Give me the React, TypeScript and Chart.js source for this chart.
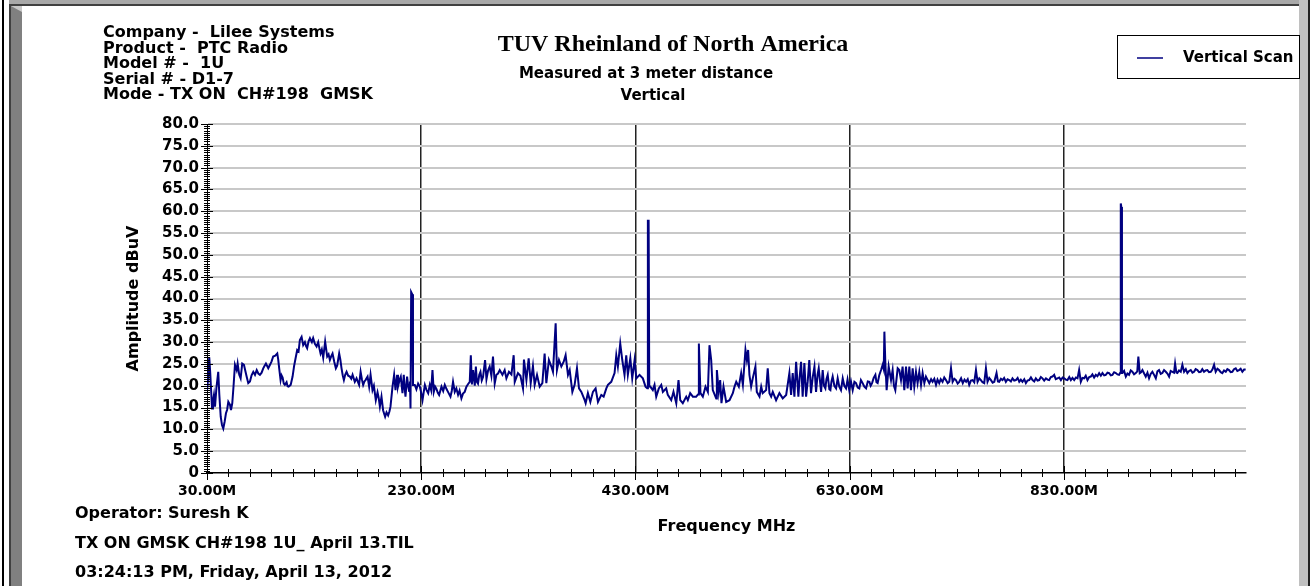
import { useEffect, useRef } from "react";
import { Chart, registerables } from "chart.js";

Chart.register(...registerables);

// ---------- axis definition ----------
const X_MIN = 30;
const X_MAX = 1000;
const Y_MIN = 0;
const Y_MAX = 80;
const Y_STEP = 5;
const xMajorTicks = [30, 230, 430, 630, 830];
const X_MINOR_STEP = 20;
const Y_MINOR_STEP = 0.5;

// ---------- texts ----------
const infoLines = [
  "Company -  Lilee Systems",
  "Product -  PTC Radio",
  "Model # -  1U",
  "Serial # - D1-7",
  "Mode - TX ON  CH#198  GMSK",
];
const titleText = "TUV Rheinland of North America";
const subtitleLines = ["Measured at 3 meter distance", "Vertical"];
const footerLines = [
  "Operator: Suresh K",
  "TX ON GMSK CH#198 1U_ April 13.TIL",
  "03:24:13 PM, Friday, April 13, 2012",
];
const seriesLabel = "Vertical Scan";
const xAxisTitle = "Frequency MHz";
const yAxisTitle = "Amplitude dBuV";

// ---------- data: [frequency MHz, amplitude dBuV] ----------
const scan30to238: [number, number][] = [
  [30, 19], [31, 21.5], [32.1, 26.5], [33, 23], [34.7, 14.8], [35.6, 16.5], [36.5, 17.9], [37.5, 15.2],
  [38.8, 19.5], [40.5, 23.2], [41.5, 18], [42.8, 12.9], [44, 11], [45.2, 10.2], [46.5, 11.8], [47.7, 13.7],
  [48.8, 14.5], [49.9, 16.3], [51.5, 15.6], [52.4, 14.4], [53.6, 16], [54.8, 20], [56.1, 24.8], [57.7, 23.6],
  [58.6, 25.1], [60.1, 22.5], [61.4, 21.7], [62.9, 25.1], [64.5, 24.8], [65.8, 23.4], [67, 22.1], [68.5, 20.6],
  [70.1, 21], [71.6, 22.4], [73.2, 23.2], [74.8, 22.5], [76.4, 23.6], [77.9, 22.8], [79.4, 22.5], [81, 23],
  [82.5, 24], [83.8, 24.6], [85, 25.1], [87.2, 24], [88.8, 24.8], [90.3, 25.6], [91.8, 26.7], [93.7, 26.9],
  [95.6, 27.4], [96.5, 26], [97.4, 24], [98.7, 21.3], [99.6, 22.4], [100.6, 21.9], [101.7, 20.5], [102.7, 20.2],
  [104.3, 20.8], [105.2, 19.9], [106.2, 19.8], [108.1, 20.2], [109.9, 22.1], [111.3, 24.5], [112.7, 26.3],
  [114.2, 28.2], [115.5, 27.9], [116.7, 30.5], [118.3, 31.2], [119.8, 29.3], [121.4, 30], [122.5, 29.1],
  [123.5, 28.6], [124.8, 30.2], [126.1, 30.9], [127.9, 30], [129.1, 30.9], [130.7, 29.6], [132.3, 29],
  [133.8, 30], [135, 28.5], [136, 27.4], [137.2, 28.3], [138.5, 26.4], [140.3, 30.1], [141.2, 28.5],
  [142.2, 26.7], [143.5, 27.2], [144.7, 25.9], [146, 26.8], [147.2, 27.4], [148.8, 25.5], [150.3, 24],
  [151.5, 24.6], [153.4, 27.4], [154.5, 26], [155.6, 24], [156.7, 22.4], [157.8, 21.3], [159, 22.5],
  [160.3, 23.2], [161.8, 22.3], [163.4, 22.1], [164.7, 21.6], [165.9, 22.5], [168, 20.9], [169.6, 21.7],
  [172, 20.2], [173.4, 23.2], [174.6, 21.5], [175.8, 20.2], [177, 21], [178, 21.3], [179.9, 22.1],
  [181.4, 19.8], [182.7, 22.5], [184.5, 19], [185.8, 20], [187.6, 16.7], [189.2, 18.5], [190.3, 17.2],
  [191.4, 15.2], [192.9, 17.5], [194.4, 14.4], [195.4, 13.6], [196.3, 12.9], [197.6, 13.9], [199.1, 13.2],
  [200.3, 14.1], [201.3, 15.2], [203.2, 19.8], [204.7, 22.5], [206, 19], [207.5, 22.5], [208.3, 19.8],
  [209.1, 20.6], [210.1, 21.6], [210.9, 22.1], [212.5, 18.3], [213.7, 22.5], [214.5, 19.6], [215.3, 17.5],
  [216.8, 22.1], [217.8, 19.9], [218.7, 18.8], [219.5, 21], [220, 14.8], [220.6, 41.5], [221.6, 41],
  [222.3, 20.2], [224, 20.2], [225.5, 19.2], [227.1, 20.5], [228.7, 19.8], [229.8, 18.6], [231.2, 16.7],
  [232.3, 18.5], [233.4, 20.2], [235, 19], [236.5, 18.3], [238, 20.2],
];

const scan238to303: [number, number][] = [
  [239.3, 19], [240.5, 23.6], [241.7, 18.6], [243, 19.8], [244.2, 19.3], [245.5, 18.4], [246.7, 17.9],
  [248.9, 19.8], [250.5, 18.8], [252, 20.2], [253.5, 19.3], [255, 18.6], [257.3, 17.5], [258.5, 18.8],
  [259.7, 20.9], [261.3, 18.6], [262.8, 19.4], [264.4, 17.9], [265.8, 18.9], [267.5, 17.1], [269, 18.2],
  [270.6, 18.6], [272.2, 19.8], [273.8, 20.4], [275.3, 20.9], [276.3, 27], [277.3, 20.3], [278.4, 23.6],
  [280, 20], [281, 24.4], [282, 20.9], [283, 20.5], [284.2, 22.5], [285.3, 23.2], [286.5, 21.2], [287.7, 22],
  [289.6, 25.9], [290.9, 21.5], [292.4, 23.5], [293.9, 24.4], [295.5, 22.3], [297, 26.7], [298.6, 20.5],
  [300.2, 22.5], [301.7, 22.8],
];

const scan303to443: [number, number][] = [
  [303.3, 23.6], [305.8, 22.5], [307.9, 23.6], [309.5, 21.7], [311.9, 23.2], [314.2, 22.6], [316.3, 27],
  [317.3, 20.9], [320.3, 22.9], [322.6, 22.3], [325, 19.4], [325.9, 26], [328.2, 21.3], [330.3, 26.3],
  [332.2, 20.6], [334.3, 24.5], [335.9, 20.2], [338.1, 22.5], [340.6, 19.8], [343.1, 20.6], [345.2, 27.4],
  [346.8, 20.6], [349.2, 25.9], [351.5, 24.4], [353, 23.2], [355.5, 34.3], [356.7, 23.6], [358.6, 25.9],
  [360.8, 24.4], [363, 25.5], [364.8, 27], [367, 22.5], [368.6, 23.6], [371.1, 18.6], [373.2, 20.2],
  [375.4, 24], [377.3, 19.4], [379.5, 18.6], [382.6, 16.7], [383.5, 16], [385.6, 18.3], [387.9, 16.3],
  [390.3, 18.6], [392.8, 19.4], [395, 16.3], [398.1, 17.9], [400.3, 17.5], [402.8, 19.4], [404.3, 20.2],
  [407.4, 20.9], [410.5, 22.9], [412.1, 27], [413.6, 24.4], [415.8, 29.7], [417.7, 25.9], [419.8, 22.5],
  [421.4, 27], [422.9, 22.5], [425.2, 26.3], [427, 21.7], [429.2, 25.9], [430.8, 21.7], [433.8, 22.5],
  [436.9, 21.7], [439.4, 19.8], [441, 19.4], [441.6, 57.8], [442.3, 57.8], [442.9, 19.8],
];

const scan443to571: [number, number][] = [
  [443.8, 19.8], [446.2, 19], [447.8, 20.2], [449.4, 17.5], [451.8, 19.4], [454.1, 20.2], [455.6, 18.6],
  [458.7, 19.4], [460.2, 17.9], [463.4, 16.7], [465.5, 18.6], [468.1, 16], [470.2, 21.3], [471.8, 16.7],
  [474.2, 16], [477.4, 17.5], [478.9, 16.7], [481.1, 18.3], [483.6, 17.5], [486.7, 17.5], [488.4, 18],
  [489.2, 29.7], [490.7, 18.3], [492.9, 17.5], [495.4, 19.8], [497.6, 18.6], [499.1, 29.3], [500.7, 25.9],
  [502.2, 19], [505.4, 17.1], [506, 23.6], [507.8, 18.6], [509.1, 21.3], [510.3, 16], [512.2, 19.8],
  [514.7, 16.3], [517.8, 16.7], [520.9, 18.3], [522.5, 19.8], [524.1, 20.9], [526.5, 19.8], [528.7, 22.9],
  [530.3, 20.2], [532.7, 28.2], [534, 25.9], [535.2, 28.2], [536.4, 22.5], [538, 19.8], [539.5, 21.7],
  [542, 24.4], [543.3, 18.6], [545.8, 17.5], [547.4, 19.8], [548.8, 18.3], [552, 19], [553.5, 24],
  [555.1, 18.3], [556.7, 17.5], [558.2, 18.6], [561.3, 16.7], [564.4, 18.3], [567.5, 17.1], [570.7, 17.9],
];

const scan571to677: [number, number][] = [
  [573.7, 22.9], [575.3, 17.9], [576.8, 22.9], [578.4, 17.5], [580, 25.5], [582.1, 17.5], [583.3, 22],
  [584.6, 25.5], [586.1, 17.5], [587.7, 25.2], [589.3, 17.5], [590.8, 21], [592.3, 25.9], [593.9, 18.3],
  [595.5, 22], [597.1, 24.4], [598.6, 18.6], [600, 22.5], [601.1, 24], [603.3, 18.6], [604.8, 23.6],
  [606, 20], [607.3, 19.4], [608.3, 21.5], [609.5, 22.5], [611, 19.2], [612, 19], [613, 21], [614.1, 22.1],
  [615.7, 20], [617.3, 19.4], [618.8, 21.7], [620.3, 19.8], [621.9, 19], [623.5, 21.7], [625, 20],
  [626.6, 19.4], [628, 21.4], [629.6, 19], [631.2, 21], [632.8, 19], [634.4, 20.9], [635.9, 20.6],
  [637.5, 19.6], [639, 19.4], [640.5, 21.3], [642.1, 20.6], [643.7, 19.8], [645.3, 19.4], [646.9, 21],
  [648.4, 20.9], [649.6, 20], [650.9, 20.6], [652.4, 21.8], [654, 22.5], [655, 20.8], [656.1, 20.6],
  [657.6, 22.4], [659.3, 23.6], [660.8, 24.8], [661.8, 23.8], [662.4, 32.4], [663.3, 25.2], [664.5, 19],
  [666.4, 24.4], [668.6, 21.3], [670.1, 23.6], [671.3, 20], [672.6, 19], [674.8, 24], [676.3, 23.6],
];

const scan677to1000: [number, number][] = [
  [677.9, 21.3], [679.4, 24.4], [681, 19], [682.6, 24.4], [684.1, 19.4], [685.7, 24.4], [687.2, 19],
  [688.8, 24], [690.3, 19.8], [691.9, 23.2], [693.4, 20.6], [695, 23.2], [696.6, 20.2], [698.1, 22.9],
  [699.7, 20.6], [701.2, 22.1], [702.8, 21.3], [704.3, 20.6], [706, 21.5], [707.4, 20.9], [709, 21.6],
  [710.6, 20.2], [712, 21.4], [713.6, 20.6], [715, 21.5], [716.7, 20.9], [718.3, 21.9], [719.9, 21.3],
  [721.5, 20.6], [723, 20.9], [724.6, 24], [726.1, 20.9], [727.7, 21.6], [729.2, 21.3], [730.8, 20.5],
  [732.3, 20.9], [734, 21.7], [735.6, 20.6], [737.2, 21.4], [738.7, 20.9], [740.2, 21.5], [741.6, 20.2],
  [743.2, 21.2], [744.7, 21.3], [746.3, 20.8], [747.9, 23.6], [749.4, 20.9], [751, 21.7], [752.5, 21.3],
  [754, 20.8], [755.6, 20.6], [757.2, 24], [758.7, 20.9], [760.3, 21.8], [761.9, 21.3], [763.5, 20.7],
  [765, 20.9], [767.1, 22.9], [768.4, 21], [769.6, 20.9], [771.2, 21.6], [772.7, 21.3], [774.2, 21.8],
  [775.8, 20.9], [777.4, 21.5], [778.9, 21.3], [780.5, 21], [782, 21.7], [783.6, 21.2], [785.2, 21.3],
  [786.8, 21.8], [788.3, 20.9], [789.8, 21.4], [791.3, 20.9], [793, 21.5], [794.5, 20.6], [796, 21.2],
  [797.6, 21.3], [799.2, 21.9], [800.7, 21.3], [802.3, 21], [803.8, 21.7], [805.4, 21.2], [806.9, 21.3],
  [808.5, 22], [810, 21.7], [811.6, 21.2], [813.2, 21.7], [814.7, 21.4], [816.2, 21.3], [817.8, 22],
  [819.3, 22.1], [820.9, 22.5], [822.4, 21.5], [824, 21.7], [825.6, 21.9], [827.2, 21.3], [828.8, 21.9],
  [830.3, 21.7], [831.8, 21.4], [833.3, 21.3], [835, 22], [836.5, 21.3], [838, 21.8], [839.6, 21.3],
  [841.2, 21.9], [842.7, 21.7], [844.2, 23.6], [845.8, 20.9], [847.3, 21.8], [848.9, 21.7], [850.4, 22.3],
  [852, 21.3], [853.6, 22], [855.1, 22.1], [856.6, 22.6], [858.2, 21.9], [859.8, 22.5], [861.3, 22.2],
  [862.9, 22.9], [864.5, 22.3], [866, 22.9], [867.6, 22.4], [869.1, 22.5], [870.7, 23], [872.2, 22.9],
  [873.8, 22.4], [875.3, 22.5], [876.9, 23.1], [878.5, 22.9], [880, 22.6], [881.5, 22.5], [882.6, 23],
  [883.1, 61.8], [883.6, 61], [884.2, 22.9], [884.6, 22.9], [886.2, 23.4], [887.8, 22.1], [889.3, 22.8],
  [890.8, 22.5], [892.4, 23.5], [893.9, 23.2], [895.5, 22.6], [897.1, 22.9], [898.5, 23.3], [899.5, 26.7],
  [900.8, 22.9], [902, 23.1], [903.3, 23.6], [904.9, 22.8], [906.4, 22.1], [908, 23], [909.5, 21.7],
  [911, 22.7], [912.6, 23.2], [914.2, 22.5], [915.8, 21.7], [917.3, 23.3], [918.8, 23.6], [920.4, 22.7],
  [921.9, 22.9], [923.5, 23.6], [925.1, 23.2], [926.6, 22.8], [928.2, 22.1], [929.7, 23.4], [931.3, 23.2],
  [932.8, 23], [933.8, 25.1], [935, 23], [935.9, 22.9], [937.5, 23.5], [939.1, 23.2], [940.6, 24.8],
  [942.2, 23.2], [943.8, 23.8], [945.3, 22.9], [946.9, 23.4], [948.4, 23.6], [950, 23], [951.5, 23.2],
  [953, 23.8], [954.6, 23.6], [956.2, 23.1], [957.7, 23.2], [959.2, 23.8], [960.8, 23.2], [962.4, 23.5],
  [963.9, 23.6], [965.5, 23.1], [967.1, 23.2], [968.6, 23.7], [970.2, 24.8], [971.7, 23.2], [973.3, 23.9],
  [974.8, 23.6], [976.4, 23.1], [977.9, 22.9], [979.5, 23.5], [981.1, 23.2], [982.6, 23.8], [984.1, 23.6],
  [985.7, 23.1], [987.2, 23.2], [988.8, 23.8], [990.4, 24], [991.9, 23.4], [993.5, 23.6], [995, 23.9],
  [996.6, 23.2], [998.2, 23.7], [999.7, 23.7],
];

const verticalScan = [
  ...scan30to238,
  ...scan238to303,
  ...scan303to443,
  ...scan443to571,
  ...scan571to677,
  ...scan677to1000,
];

// ---------- styling ----------
const W = 1312;
const H = 586;
const SANS = '"DejaVu Sans", "Liberation Sans", sans-serif';
const SERIF = '"Liberation Serif", "DejaVu Serif", serif';
const LINE_COLOR = "#000080";

const framePlugin = {
  id: "frameAndTexts",
  beforeDraw(chart: any) {
    const ctx = chart.ctx as CanvasRenderingContext2D;
    ctx.save();
    ctx.fillStyle = "#ffffff";
    ctx.fillRect(0, 0, W, H);
    // outer left black line
    ctx.fillStyle = "#000000";
    ctx.fillRect(2, 0, 2, H);
    // top band
    ctx.fillStyle = "#a8a8a8";
    ctx.fillRect(9, 0, 1301, 4);
    ctx.fillStyle = "#404040";
    ctx.fillRect(9, 4, 1291, 2);
    // left band
    ctx.fillStyle = "#404040";
    ctx.fillRect(9, 4, 2, H);
    ctx.fillStyle = "#808080";
    ctx.fillRect(11, 6, 11, H);
    ctx.fillStyle = "#c8c8c8";
    ctx.beginPath();
    ctx.moveTo(11, 6);
    ctx.lineTo(22, 6);
    ctx.lineTo(22, 12);
    ctx.closePath();
    ctx.fill();
    // right band
    ctx.fillStyle = "#c0c0c0";
    ctx.fillRect(1299, 0, 9, H);
    ctx.fillStyle = "#202020";
    ctx.fillRect(1308, 0, 2, H);
    ctx.restore();
  },
  afterDraw(chart: any) {
    const ctx = chart.ctx as CanvasRenderingContext2D;
    const xs = chart.scales.x;
    const ys = chart.scales.y;
    const area = chart.chartArea;
    ctx.save();

    // minor / major tick marks on axes
    ctx.strokeStyle = "#000";
    ctx.lineWidth = 1;
    ctx.beginPath();
    for (let v = Y_MIN; v <= Y_MAX + 1e-9; v += Y_MINOR_STEP) {
      const y = Math.round(ys.getPixelForValue(v)) + 0.5;
      const major = Math.abs(v / Y_STEP - Math.round(v / Y_STEP)) < 1e-6;
      ctx.moveTo(area.left - (major ? 6 : 3), y);
      ctx.lineTo(area.left + (major ? 6 : 3), y);
    }
    for (let v = X_MIN; v <= X_MAX + 1e-9; v += X_MINOR_STEP) {
      const x = Math.round(xs.getPixelForValue(v)) + 0.5;
      const major = xMajorTicks.includes(v);
      ctx.moveTo(x, area.bottom - (major ? 7 : 4));
      ctx.lineTo(x, area.bottom + (major ? 7 : 4));
    }
    ctx.stroke();

    ctx.fillStyle = "#000";
    // info block
    ctx.font = `bold 16px ${SANS}`;
    ctx.textAlign = "left";
    ctx.textBaseline = "alphabetic";
    const infoBase = [37, 52.5, 68, 83.5, 99];
    infoLines.forEach((t, i) => ctx.fillText(t, 103, infoBase[i]));

    // title
    ctx.textAlign = "center";
    ctx.font = `bold 24px ${SERIF}`;
    ctx.fillText(titleText, 673, 51);
    ctx.font = `bold 15px ${SANS}`;
    ctx.fillText(subtitleLines[0], 646, 77.5);
    ctx.fillText(subtitleLines[1], 653, 99.5);

    // footer
    ctx.textAlign = "left";
    ctx.font = `bold 16px ${SANS}`;
    const footBase = [518, 548, 577];
    footerLines.forEach((t, i) => ctx.fillText(t, 75, footBase[i]));

    // legend
    ctx.strokeStyle = "#000";
    ctx.lineWidth = 1;
    ctx.strokeRect(1117.5, 35.5, 182, 43);
    ctx.strokeStyle = LINE_COLOR;
    ctx.lineWidth = 1.5;
    ctx.beginPath();
    ctx.moveTo(1137, 58);
    ctx.lineTo(1163, 58);
    ctx.stroke();
    ctx.fillStyle = "#000";
    ctx.font = `bold 15px ${SANS}`;
    ctx.textBaseline = "middle";
    ctx.fillText(seriesLabel, 1183, 58);

    ctx.restore();
  },
};

export default function App() {
  const canvasRef = useRef<HTMLCanvasElement | null>(null);

  useEffect(() => {
    const canvas = canvasRef.current;
    if (!canvas) return;
    const chart = new Chart(canvas, {
      type: "line",
      data: {
        datasets: [
          {
            label: seriesLabel,
            data: verticalScan as any,
            borderColor: LINE_COLOR,
            borderWidth: 2,
            pointRadius: 0,
            tension: 0,
            fill: false,
          },
        ],
      },
      options: {
        animation: false,
        responsive: false,
        maintainAspectRatio: false,
        devicePixelRatio: 1,
        events: [],
        layout: { padding: { left: 22, top: 124, right: 66, bottom: 0 } },
        plugins: {
          legend: { display: false },
          tooltip: { enabled: false },
          title: { display: false },
        },
        scales: {
          x: {
            type: "linear",
            min: X_MIN,
            max: X_MAX,
            afterFit: (s: any) => {
              s.height = 113;
            },
            afterBuildTicks: (s: any) => {
              s.ticks = xMajorTicks.map((v) => ({ value: v }));
            },
            ticks: {
              callback: (v: any) => Number(v).toFixed(2) + "M",
              font: { family: SANS, size: 14, weight: "bold" },
              color: "#000",
              padding: 10,
              maxRotation: 0,
              autoSkip: false,
            },
            grid: {
              drawTicks: false,
              color: (c: any) =>
                c.tick && c.tick.value === X_MIN ? "rgba(0,0,0,0)" : "#222222",
              lineWidth: 1.5,
            },
            border: { display: true, color: "#000", width: 1.5 },
            title: {
              display: true,
              text: xAxisTitle,
              color: "#000",
              font: { family: SANS, size: 16, weight: "bold" },
              padding: { top: 0, bottom: 50 },
            },
          },
          y: {
            min: Y_MIN,
            max: Y_MAX,
            afterFit: (s: any) => {
              s.width = 185;
            },
            ticks: {
              stepSize: Y_STEP,
              callback: (v: any) => (Number(v) === 0 ? "0" : Number(v).toFixed(1)),
              font: { family: SANS, size: 15, weight: "bold" },
              color: "#000",
              padding: 8,
            },
            grid: {
              drawTicks: false,
              color: (c: any) =>
                c.tick && c.tick.value === 0 ? "rgba(0,0,0,0)" : "#c8c8c8",
              lineWidth: 2,
            },
            border: { display: true, color: "#000", width: 1 },
            title: {
              display: true,
              text: yAxisTitle,
              color: "#000",
              font: { family: SANS, size: 16, weight: "bold" },
              padding: { top: 102, bottom: 0 },
            },
          },
        },
      } as any,
      plugins: [framePlugin],
    });
    return () => chart.destroy();
  }, []);

  return (
    <div style={{ position: "absolute", left: 0, top: 0, width: W, height: H }}>
      <canvas ref={canvasRef} width={W} height={H} style={{ display: "block" }} />
    </div>
  );
}
